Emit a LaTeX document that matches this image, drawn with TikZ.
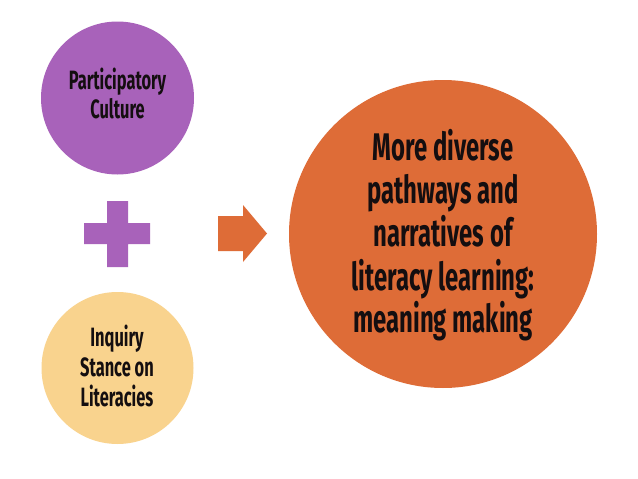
\documentclass[tikz,border=0pt]{standalone}
\usepackage{fontspec}
\setmainfont{Fira Sans}[FakeStretch=0.62]
\definecolor{cpurple}{RGB}{168,98,186}
\definecolor{cyellow}{RGB}{249,211,142}
\definecolor{corange}{RGB}{222,108,55}
\definecolor{ctext}{RGB}{20,14,16}
\tikzset{
  bubble/.style={circle, inner sep=0pt, draw=none},
  smalltxt/.style={anchor=base, inner sep=0pt, text=ctext, font=\fontsize{26.5}{29.5}\selectfont\bfseries},
  bigtxt/.style={anchor=base, inner sep=0pt, text=ctext, font=\fontsize{38.5}{44}\selectfont\bfseries},
}
\begin{document}
\begin{tikzpicture}[x=1pt,y=-1pt]
\useasboundingbox[fill=white] (0,0) rectangle (638,479);
% circles
\node[bubble, fill=cpurple, minimum size=153pt] (pc) at (117.5,98) {};
\node[bubble, fill=cyellow, minimum size=152pt] (yc) at (117.5,368) {};
\node[bubble, fill=corange, minimum size=308pt] (oc) at (443,234) {};
% texts
\node[smalltxt] (pt1) at (117.5,89) {Participatory};
\node[smalltxt] (pt2) at (117.5,118.5) {Culture};
\node[smalltxt] (yt1) at (117,346.5) {Inquiry};
\node[smalltxt] (yt2) at (117,376.5) {Stance on};
\node[smalltxt] (yt3) at (117,406) {Literacies};
\node[bigtxt] (ot1) at (443,160) {More diverse};
\node[bigtxt] (ot2) at (443,203.5) {pathways and};
\node[bigtxt] (ot3) at (443,246.7) {narratives of};
\node[bigtxt] (ot4) at (443,290) {literacy learning:};
\node[bigtxt] (ot5) at (443,332.5) {meaning making};
% plus sign
\fill[cpurple] (107,201) -- (128,201) -- (128,223) -- (150,223) -- (150,244)
  -- (128,244) -- (128,267) -- (107,267) -- (107,244) -- (84,244) -- (84,223)
  -- (107,223) -- cycle;
% arrow
\fill[corange] (218,216) -- (243,216) -- (243,205) -- (267,233.5) -- (243,262)
  -- (243,251) -- (218,251) -- cycle;
\end{tikzpicture}
\end{document}
